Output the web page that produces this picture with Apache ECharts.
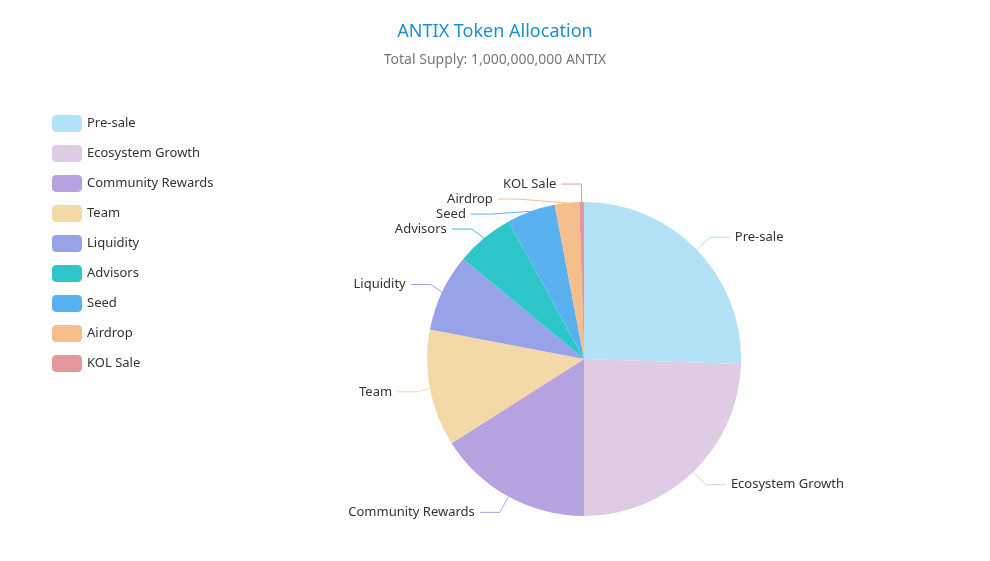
<!DOCTYPE html>
<html>
<head>
<meta charset="utf-8">
<script src="https://cdn.jsdelivr.net/npm/echarts@6/dist/echarts.min.js"></script>
<style>html,body{margin:0;padding:0;background:#fff}#c{width:990px;height:561px}</style>
</head>
<body>
<div id="c"></div>
<script>
const categories = ['Pre-sale','Ecosystem Growth','Community Rewards','Team','Liquidity','Advisors','Seed','Airdrop','KOL Sale'];
const values = [25.5, 24.5, 16, 12, 8, 6, 5, 2.5, 0.5];
const colors = ['#b3e1f5','#e0cbe4','#b6a2de','#f3d9a8','#97a2e8','#2ec7c9','#5ab1ef','#f5bf8c','#e5989b'];

const chart = echarts.init(document.getElementById('c'));
const font = '"Noto Sans", "Open Sans", sans-serif';
chart.setOption({
  textStyle: {fontFamily: font},
  title: {
    text: 'ANTIX Token Allocation',
    subtext: 'Total Supply: 1,000,000,000 ANTIX',
    left: 'center',
    top: 18,
    itemGap: 12,
    textStyle: {color: '#1a8fd0', fontSize: 18, fontWeight: 'normal', fontFamily: font},
    subtextStyle: {color: '#777', fontSize: 14, fontFamily: font}
  },
  legend: {
    orient: 'vertical',
    left: 47,
    top: 110,
    itemWidth: 30,
    itemHeight: 17,
    itemGap: 13,
    icon: 'roundRect',
    textStyle: {color: '#333', fontSize: 13, fontFamily: font},
    data: categories
  },
  series: [{
    type: 'pie',
    center: ['59%', '64%'],
    radius: 157,
    startAngle: 90,
    data: categories.map((n, i) => ({name: n, value: values[i], itemStyle: {color: colors[i]}})),
    label: {color: '#333', fontSize: 13, fontFamily: font},
    labelLine: {length: 18, length2: 20},
    itemStyle: {borderColor: 'transparent', borderWidth: 0}
  }]
});
</script>
</body>
</html>
